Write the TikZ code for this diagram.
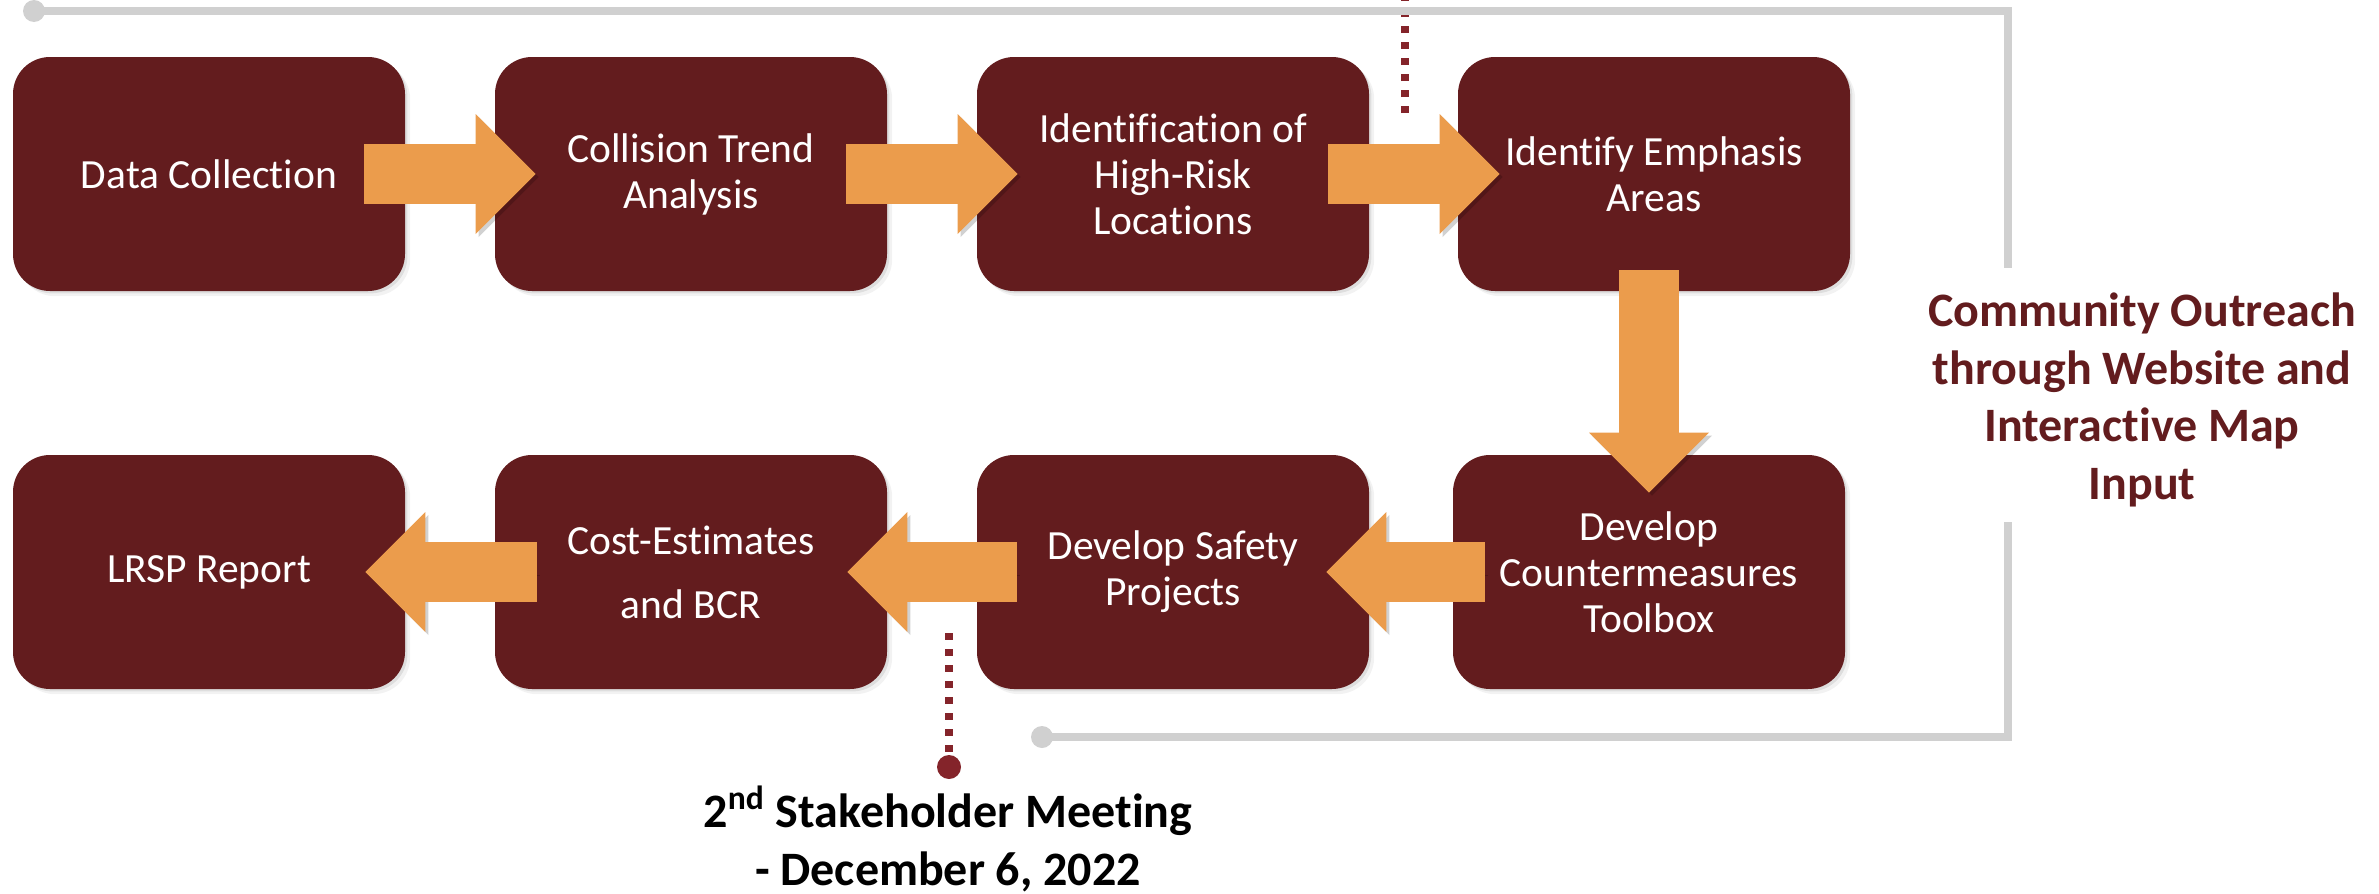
\documentclass[tikz,border=0pt]{standalone}
\usepackage{fontspec}
\setmainfont{Carlito}[Ligatures=NoCommon]
\usetikzlibrary{calc,arrows.meta,shadows}
\definecolor{boxcol}{RGB}{99,28,30}
\definecolor{arrcol}{RGB}{235,156,76}
\definecolor{graycol}{RGB}{208,208,208}
\definecolor{dotcol}{RGB}{132,36,42}
\begin{document}
\begin{tikzpicture}[x=0.5pt,y=-0.5pt,
  stepbox/.style={rectangle, rounded corners=18.5pt, minimum width=196pt, minimum height=117pt,
    inner sep=0pt, fill=boxcol, text=white, align=center,
    font=\fontsize{20.75pt}{23pt}\selectfont,
    drop shadow={shadow xshift=1.2pt,shadow yshift=-1.2pt,opacity=0.18},
    drop shadow={shadow xshift=2.6pt,shadow yshift=-2.6pt,opacity=0.10}},
  blockarr/.style={draw=arrcol, line width=30pt,
    -{Triangle[width=60pt,length=30pt,line width=0pt]},
    preaction={draw=black, opacity=0.18, transform canvas={shift={(1.5pt,-1.5pt)}}}},
  grayline/.style={draw=graycol, line width=4pt},
  graydot/.style={circle, fill=graycol, minimum size=11pt, inner sep=0pt},
  dotline/.style={draw=dotcol, line width=4pt, dash pattern=on 3.5pt off 4.5pt},
  reddot/.style={circle, fill=dotcol, minimum size=12pt, inner sep=0pt},
  bigtext/.style={font=\bfseries\fontsize{24pt}{28.7pt}\selectfont, align=center, inner sep=0pt}
]
\useasboundingbox (0,0) rectangle (2379,894);

% maroon dotted lines (meeting markers)
\coordinate (dA) at (1405,113);
\coordinate (dB) at (1405,0);
\draw[dotline] (dA) -- (dB);
\node[reddot] (mdot) at (949,767) {};
\coordinate (dC) at (949,633);
\draw[dotline] (dC) -- (mdot.north);

% gray outreach bracket
\node[graydot] (gA) at (34,11) {};
\coordinate (gB) at (2008,11);
\coordinate (gC) at (2008,268);
\coordinate (gD) at (2008,522);
\coordinate (gE) at (2008,737);
\node[graydot] (gF) at (1042,737) {};
\draw[grayline] (gA.center) -- (gB) -- (gC);
\draw[grayline] (gD) -- (gE) -- (gF.center);

% process boxes
\node[stepbox] (b1) at (209,174) {Data Collection};
\node[stepbox] (b2) at (691,174) {Collision Trend\\Analysis};
\node[stepbox] (b3) at (1173,174) {Identification of\\High-Risk\\Locations};
\node[stepbox] (b4) at (1654,174) {Identify Emphasis\\Areas};
\node[stepbox] (b8) at (1649,572) {Develop\\Countermeasures\\Toolbox};
\node[stepbox] (b7) at (1173,572) {Develop Safety\\Projects};
\node[stepbox, font=\fontsize{20.75pt}{32pt}\selectfont] (b6) at (691,572) {Cost-Estimates\\and BCR};
\node[stepbox] (b5) at (209,572) {LRSP Report};

% block arrows
\draw[blockarr] ($(b1.east)+(-41,0)$) -- ($(b2.west)+(41,0)$);
\draw[blockarr] ($(b2.east)+(-41,0)$) -- ($(b3.west)+(41,0)$);
\draw[blockarr] ($(b3.east)+(-41,0)$) -- ($(b4.west)+(42,0)$);
\draw[blockarr] ($(b8.north|-b4.south)+(0,-21)$) -- ($(b8.north)+(0,38)$);
\draw[blockarr] ($(b8.west)+(32,0)$) -- ($(b7.east)+(-43,0)$);
\draw[blockarr] ($(b7.west)+(40,0)$) -- ($(b6.east)+(-40,0)$);
\draw[blockarr] ($(b6.west)+(42,0)$) -- ($(b5.east)+(-40,0)$);

% labels
\node[bigtext, text=boxcol] (co) at (2142,400) {Community Outreach\\through Website and\\Interactive Map\\Input};
\node[bigtext, text=black] (sm) at (948,839) {2\textsuperscript{nd} Stakeholder Meeting\\- December 6, 2022};
\end{tikzpicture}
\end{document}
